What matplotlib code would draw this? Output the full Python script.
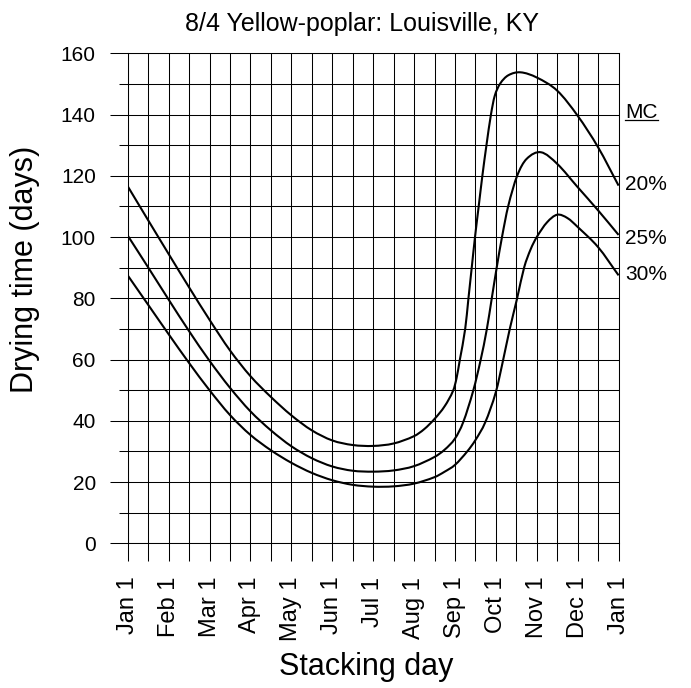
import matplotlib
matplotlib.use("Agg")
import matplotlib.pyplot as plt
from matplotlib.lines import Line2D
from matplotlib.path import Path
from matplotlib.patches import PathPatch
from matplotlib.ticker import MultipleLocator
from matplotlib.transforms import IdentityTransform

plt.rcParams['font.family'] = ['Liberation Sans', 'DejaVu Sans']

# x = months after Jan 1 (0 = Jan 1, 12 = Jan 1 next year)
month_labels = ['Jan 1', 'Feb 1', 'Mar 1', 'Apr 1', 'May 1', 'Jun 1', 'Jul 1',
                'Aug 1', 'Sep 1', 'Oct 1', 'Nov 1', 'Dec 1', 'Jan 1']

# 20% MC
mc20_month = [0, 0.5, 1, 1.5, 2, 2.5, 3, 3.5, 4, 4.5, 5, 5.5, 6, 6.5, 7, 7.25, 7.5, 7.75,
              7.96, 8.04, 8.12, 8.25, 8.33, 8.41, 8.49, 8.58, 8.67, 8.77, 8.88, 8.97,
              9.1, 9.3, 9.6, 10, 10.5, 11, 11.5, 12]
mc20_days = [116.6, 105.5, 94.5, 83.6, 73.0, 63.0, 54.6, 47.8, 41.8, 36.9, 33.6, 32.1,
             31.8, 32.6, 35.0, 37.3, 40.6, 44.8, 50, 54, 60, 70, 80, 90, 100, 110, 120,
             130, 140, 146, 150, 152.8, 153.8, 152.1, 147.8, 139.6, 129.3, 116.8]

# 25% MC
mc25_month = [0, 0.5, 1, 1.5, 2, 2.5, 3, 3.5, 4, 4.5, 5, 5.5, 6, 6.5, 7, 7.5, 7.75, 8,
              8.2, 8.45, 8.63, 8.78, 8.9, 9.02, 9.15, 9.3, 9.52, 9.75, 10.1, 10.5, 11,
              11.5, 12]
mc25_days = [100.5, 90.1, 79.6, 69.3, 59.6, 50.8, 43.1, 36.9, 31.7, 27.8, 25.1, 23.7,
             23.4, 23.8, 25.2, 28.2, 30.6, 34.2, 39.5, 50, 60, 70, 80, 90, 100, 110, 120,
             125.5, 127.7, 123.9, 116.3, 108.7, 100.7]

# 30% MC
mc30_month = [0, 0.5, 1, 1.5, 2, 2.5, 3, 3.5, 4, 4.5, 5, 5.5, 6, 6.5, 7, 7.5, 7.75, 8,
              8.3, 8.5, 8.74, 9.0, 9.18, 9.34, 9.52, 9.69, 9.85, 10, 10.25, 10.5, 10.75,
              11, 11.5, 12]
mc30_days = [87.5, 77.9, 68.3, 58.9, 50.0, 41.9, 35.4, 30.4, 26.3, 23.0, 20.6, 19.1, 18.5,
             18.6, 19.5, 21.6, 23.4, 25.6, 30, 33.7, 39.5, 49.4, 60, 70, 80, 90, 96, 100,
             104.8, 107.3, 106.2, 103.3, 96.7, 87.5]

curve_labels = ['20%', '25%', '30%']
label_days = [115.3, 97.7, 85.9]


def smooth_path(xs, ys):
    # cubic bezier through the read points (tangents from neighbouring points)
    n = len(xs)
    slopes = []
    for i in range(n):
        a = max(i - 1, 0)
        b = min(i + 1, n - 1)
        slopes.append((ys[b] - ys[a]) / (xs[b] - xs[a]))
    verts = [(xs[0], ys[0])]
    codes = [Path.MOVETO]
    for i in range(n - 1):
        h = xs[i + 1] - xs[i]
        verts += [(xs[i] + h / 3, ys[i] + slopes[i] * h / 3),
                  (xs[i + 1] - h / 3, ys[i + 1] - slopes[i + 1] * h / 3),
                  (xs[i + 1], ys[i + 1])]
        codes += [Path.CURVE4] * 3
    return Path(verts, codes)


fig = plt.figure(figsize=(6.91, 6.88), dpi=100)
ax = fig.add_axes([0.1848, 0.2103, 0.7104, 0.7122])

for m, d in [(mc20_month, mc20_days), (mc25_month, mc25_days), (mc30_month, mc30_days)]:
    ax.add_patch(PathPatch(smooth_path(m, d), fill=False, edgecolor='black', lw=1.5,
                           zorder=3))

ax.set_xlim(0, 12)
ax.set_ylim(0, 160)
ax.set_xticks(range(13))
ax.set_xticklabels(month_labels, rotation=90, fontsize=17)
ax.xaxis.set_minor_locator(MultipleLocator(0.5))
ax.yaxis.set_major_locator(MultipleLocator(20))
ax.yaxis.set_minor_locator(MultipleLocator(10))
ax.grid(which='both', color='black', lw=0.75)
ax.tick_params(axis='x', which='both', length=13.2, width=0.75, pad=10.8)
ax.tick_params(axis='y', which='major', length=13, width=0.75, pad=10, labelsize=15)
ax.tick_params(axis='y', which='minor', length=6.8, width=0.75)
for s in ax.spines.values():
    s.set_linewidth(0.75)

# labels at the right-hand end of the curves
for lab, y in zip(curve_labels, label_days):
    ax.text(12.16, y, lab, fontsize=15, ha='left', va='baseline', clip_on=False)
mc = ax.text(12.16, 138.8, 'MC', fontsize=15, ha='left', va='baseline', clip_on=False)

fig.text(0.5246, 0.9554, '8/4 Yellow-poplar: Louisville, KY', ha='center', va='baseline',
         fontsize=18)
fig.text(0.0482, 0.6083, 'Drying time (days)', rotation=90, rotation_mode='anchor',
         ha='center', va='baseline', fontsize=22)
fig.text(0.53, 0.0189, 'Stacking day', ha='center', va='baseline', fontsize=22)

# underline MC
fig.canvas.draw()
bb = mc.get_window_extent()
base = ax.transData.transform((12.16, 138.8))[1]
fig.add_artist(Line2D([bb.x0, bb.x1], [base - 2, base - 2], color='black', lw=0.9,
                      transform=IdentityTransform()))

fig.savefig('out.png', dpi=100)
